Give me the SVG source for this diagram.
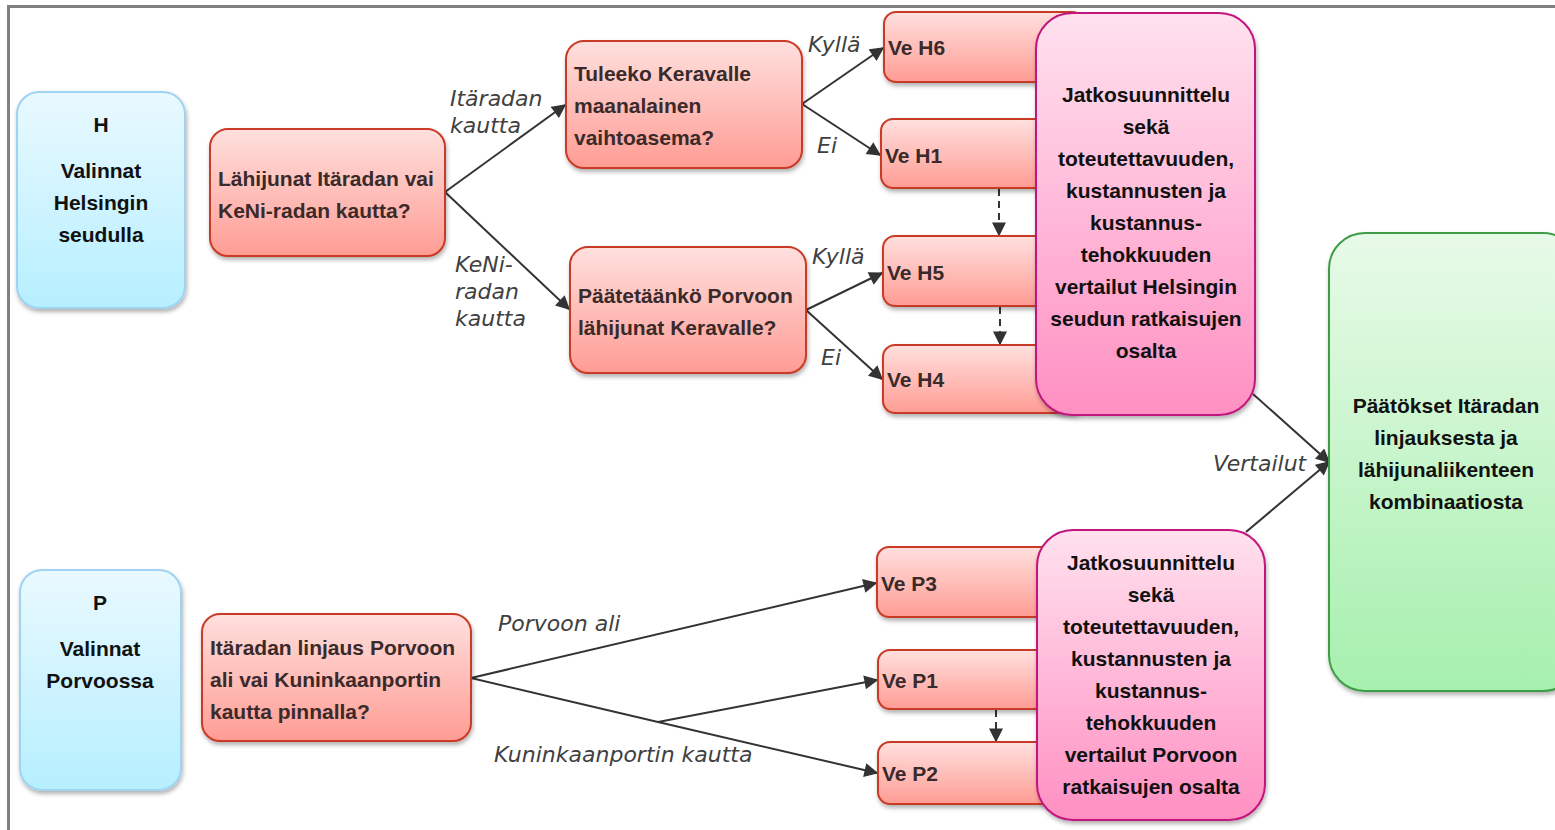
<svg xmlns="http://www.w3.org/2000/svg" width="1555" height="830" viewBox="0 0 1555 830">
<defs>
<linearGradient id="gBlue" x1="0" y1="0" x2="0" y2="1"><stop offset="0" stop-color="#e9f9ff"/><stop offset="1" stop-color="#b6efff"/></linearGradient>
<linearGradient id="gRed" x1="0" y1="0" x2="0" y2="1"><stop offset="0" stop-color="#ffe0de"/><stop offset="1" stop-color="#ff9c94"/></linearGradient>
<linearGradient id="gPink" x1="0" y1="0" x2="0" y2="1"><stop offset="0" stop-color="#ffe1ee"/><stop offset="1" stop-color="#ff90c2"/></linearGradient>
<linearGradient id="gGreen" x1="0" y1="0" x2="0" y2="1"><stop offset="0" stop-color="#e8fae8"/><stop offset="1" stop-color="#a6f0ae"/></linearGradient>
<filter id="sh" x="-10%" y="-10%" width="130%" height="130%"><feDropShadow dx="1" dy="3" stdDeviation="2" flood-color="#000" flood-opacity="0.3"/></filter>
<marker id="arw" viewBox="0 0 10 10" refX="9" refY="5" markerWidth="15" markerHeight="14" orient="auto" markerUnits="userSpaceOnUse"><path d="M0,0 L10,5 L0,10 z" fill="#333"/></marker>
</defs>
<style>
.blue{fill:url(#gBlue);stroke:#9fd3f2;stroke-width:2;filter:url(#sh)}
.red{fill:url(#gRed);stroke:#c93a26;stroke-width:2;filter:url(#sh)}
.pink{fill:url(#gPink);stroke:#c2157e;stroke-width:2;filter:url(#sh)}
.green{fill:url(#gGreen);stroke:#3c9c44;stroke-width:2;filter:url(#sh)}
.t{font-family:"Liberation Sans",Arial,sans-serif;font-weight:bold;font-size:21px;fill:#111}
.tc{text-anchor:middle}
.tr{fill:#3a2a2a}
.lab{font-family:"DejaVu Sans",Verdana,sans-serif;font-style:italic;font-size:22px;fill:#404040}
.ln{stroke:#333;stroke-width:2;fill:none}
.dash{stroke:#333;stroke-width:2;fill:none;stroke-dasharray:7,5}
</style>
<g id="frame"><path d="M8.5,830 V6.5 H1555" fill="none" stroke="#808080" stroke-width="3"/></g>

<g id="connectors">
<line class="ln" x1="445" y1="192" x2="565" y2="105" marker-end="url(#arw)"/>
<line class="ln" x1="445" y1="192" x2="569" y2="309" marker-end="url(#arw)"/>
<line class="ln" x1="802" y1="104" x2="883" y2="48" marker-end="url(#arw)"/>
<line class="ln" x1="802" y1="104" x2="880" y2="155" marker-end="url(#arw)"/>
<line class="ln" x1="806" y1="310" x2="882" y2="273" marker-end="url(#arw)"/>
<line class="ln" x1="806" y1="310" x2="882" y2="379" marker-end="url(#arw)"/>
<line class="dash" x1="999" y1="189" x2="999" y2="235" marker-end="url(#arw)"/>
<line class="dash" x1="1000" y1="307" x2="1000" y2="344" marker-end="url(#arw)"/>
<line class="ln" x1="1253" y1="394" x2="1329" y2="462" marker-end="url(#arw)"/>
<line class="ln" x1="1246" y1="532" x2="1329" y2="462" marker-end="url(#arw)"/>
<line class="ln" x1="471" y1="678" x2="876" y2="583" marker-end="url(#arw)"/>
<polyline class="ln" points="471,678 658,722 877,773" marker-end="url(#arw)"/>
<line class="ln" x1="658" y1="722" x2="877" y2="680" marker-end="url(#arw)"/>
<line class="dash" x1="996" y1="710" x2="996" y2="741" marker-end="url(#arw)"/>
<text class="lab" x="450" y="106">Itäradan</text>
<text class="lab" x="450" y="133">kautta</text>
<text class="lab" x="455" y="272">KeNi-</text>
<text class="lab" x="455" y="299">radan</text>
<text class="lab" x="455" y="326">kautta</text>
<text class="lab" x="808" y="52">Kyllä</text>
<text class="lab" x="817" y="153">Ei</text>
<text class="lab" x="812" y="264">Kyllä</text>
<text class="lab" x="821" y="365">Ei</text>
<text class="lab" x="1213" y="471">Vertailut</text>
<text class="lab" x="498" y="631">Porvoon ali</text>
<text class="lab" x="494" y="762">Kuninkaanportin kautta</text>
</g>

<g id="nodeH">
<rect class="blue" x="17" y="92" width="168" height="216" rx="22"/>
<text class="t tc" x="101" y="132">H</text>
<text class="t tc" x="101" y="178">Valinnat</text>
<text class="t tc" x="101" y="210">Helsingin</text>
<text class="t tc" x="101" y="242">seudulla</text>
</g>
<g id="nodeQ1">
<rect class="red" x="210" y="129" width="235" height="127" rx="18"/>
<text class="t tr" x="218" y="186">Lähijunat Itäradan vai</text>
<text class="t tr" x="218" y="218">KeNi-radan kautta?</text>
</g>
<g id="nodeQ2">
<rect class="red" x="566" y="41" width="236" height="127" rx="18"/>
<text class="t tr" x="574" y="81">Tuleeko Keravalle</text>
<text class="t tr" x="574" y="113">maanalainen</text>
<text class="t tr" x="574" y="145">vaihtoasema?</text>
</g>
<g id="nodeQ3">
<rect class="red" x="570" y="247" width="236" height="126" rx="18"/>
<text class="t tr" x="578" y="303">Päätetäänkö Porvoon</text>
<text class="t tr" x="578" y="335">lähijunat  Keravalle?</text>
</g>
<g id="nodeH6"><rect class="red" x="884" y="12" width="200" height="70" rx="12"/><text class="t tr" x="888" y="55">Ve H6</text></g>
<g id="nodeH1"><rect class="red" x="881" y="119" width="200" height="69" rx="12"/><text class="t tr" x="885" y="163">Ve H1</text></g>
<g id="nodeH5"><rect class="red" x="883" y="236" width="200" height="70" rx="12"/><text class="t tr" x="887" y="280">Ve H5</text></g>
<g id="nodeH4"><rect class="red" x="883" y="345" width="200" height="68" rx="12"/><text class="t tr" x="887" y="387">Ve H4</text></g>
<g id="nodePinkH">
<rect class="pink" x="1036" y="13" width="219" height="402" rx="36"/>
<text class="t tc" x="1146" y="102">Jatkosuunnittelu</text>
<text class="t tc" x="1146" y="134">sekä</text>
<text class="t tc" x="1146" y="166">toteutettavuuden,</text>
<text class="t tc" x="1146" y="198">kustannusten ja</text>
<text class="t tc" x="1146" y="230">kustannus-</text>
<text class="t tc" x="1146" y="262">tehokkuuden</text>
<text class="t tc" x="1146" y="294">vertailut Helsingin</text>
<text class="t tc" x="1146" y="326">seudun  ratkaisujen</text>
<text class="t tc" x="1146" y="358">osalta</text>
</g>
<g id="nodeGreen">
<rect class="green" x="1329" y="233" width="250" height="458" rx="36"/>
<text class="t tc" x="1446" y="413">Päätökset Itäradan</text>
<text class="t tc" x="1446" y="445">linjauksesta ja</text>
<text class="t tc" x="1446" y="477">lähijunaliikenteen</text>
<text class="t tc" x="1446" y="509">kombinaatiosta</text>
</g>
<g id="nodeP">
<rect class="blue" x="20" y="570" width="161" height="220" rx="22"/>
<text class="t tc" x="100" y="610">P</text>
<text class="t tc" x="100" y="656">Valinnat</text>
<text class="t tc" x="100" y="688">Porvoossa</text>
</g>
<g id="nodeQ4">
<rect class="red" x="202" y="614" width="269" height="127" rx="18"/>
<text class="t tr" x="210" y="655">Itäradan linjaus Porvoon</text>
<text class="t tr" x="210" y="687">ali vai Kuninkaanportin</text>
<text class="t tr" x="210" y="719">kautta pinnalla?</text>
</g>
<g id="nodeP3"><rect class="red" x="877" y="547" width="200" height="70" rx="12"/><text class="t tr" x="881" y="591">Ve P3</text></g>
<g id="nodeP1"><rect class="red" x="878" y="650" width="200" height="59" rx="12"/><text class="t tr" x="882" y="688">Ve P1</text></g>
<g id="nodeP2"><rect class="red" x="878" y="742" width="200" height="62" rx="12"/><text class="t tr" x="882" y="781">Ve P2</text></g>
<g id="nodePinkP">
<rect class="pink" x="1037" y="530" width="228" height="290" rx="36"/>
<text class="t tc" x="1151" y="570">Jatkosuunnittelu</text>
<text class="t tc" x="1151" y="602">sekä</text>
<text class="t tc" x="1151" y="634">toteutettavuuden,</text>
<text class="t tc" x="1151" y="666">kustannusten ja</text>
<text class="t tc" x="1151" y="698">kustannus-</text>
<text class="t tc" x="1151" y="730">tehokkuuden</text>
<text class="t tc" x="1151" y="762">vertailut Porvoon</text>
<text class="t tc" x="1151" y="794">ratkaisujen osalta</text>
</g>
</svg>
